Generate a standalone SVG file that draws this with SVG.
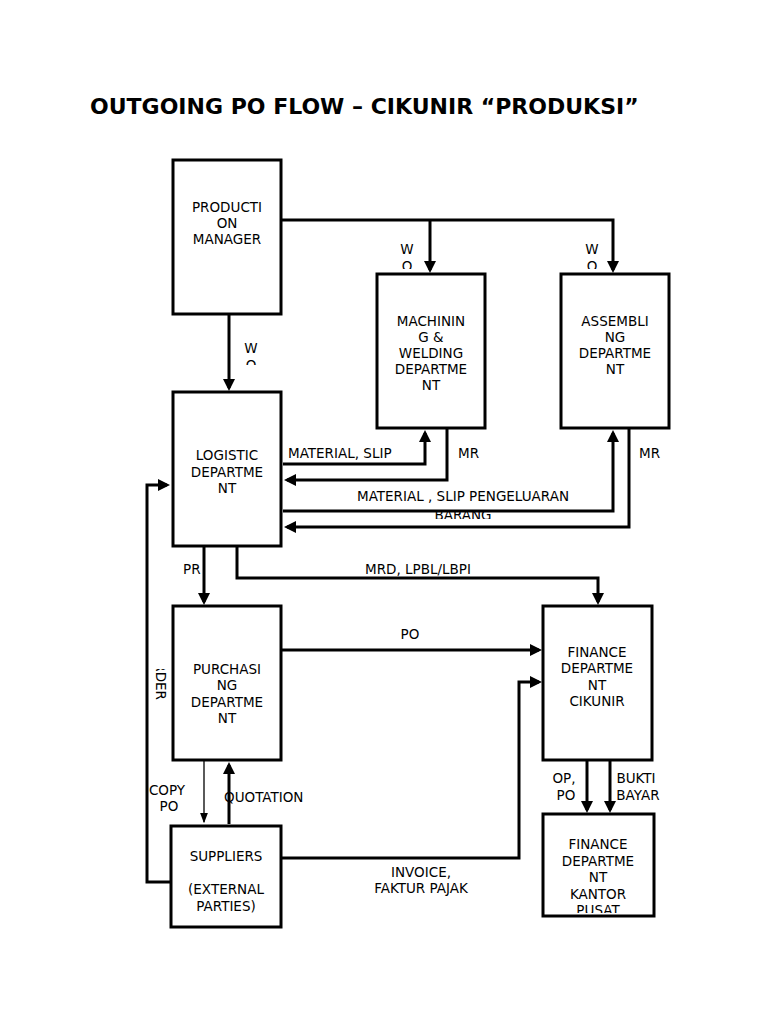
<svg xmlns="http://www.w3.org/2000/svg" width="768" height="1024" viewBox="0 0 768 1024">
<style>
.b{fill:#fff;stroke:#000;stroke-width:3}
.t{font-family:"DejaVu Sans",sans-serif;font-size:13.5px;fill:#000;text-anchor:middle}
.l{font-family:"DejaVu Sans",sans-serif;font-size:13.5px;fill:#000}
.c{fill:none;stroke:#000;stroke-width:3}
</style>
<defs>
<marker id="a" markerWidth="4" markerHeight="4" refX="3" refY="2" orient="auto" markerUnits="strokeWidth"><path d="M0,0L4,2L0,4z"/></marker>
<marker id="s" markerWidth="8" markerHeight="8" refX="7" refY="4" orient="auto" markerUnits="strokeWidth"><path d="M0,1L8,4L0,7z"/></marker>
<clipPath id="k1"><rect x="0" y="0" width="768" height="269"/></clipPath>
<clipPath id="k2"><rect x="0" y="0" width="768" height="365"/></clipPath>
<clipPath id="k3"><rect x="0" y="0" width="768" height="519"/></clipPath>
<clipPath id="k4"><rect x="0" y="0" width="768" height="913"/></clipPath>
<clipPath id="k5"><rect x="150" y="669" width="30" height="35"/></clipPath>
</defs>
<rect width="768" height="1024" fill="#fff"/>
<text x="90" y="114" font-family="DejaVu Sans,sans-serif" font-size="22" font-weight="bold">OUTGOING PO FLOW – CIKUNIR “PRODUKSI”</text>
<g id="connectors">
<path class="c" d="M281,220H613V270" marker-end="url(#a)"/>
<path class="c" d="M430,220V270" marker-end="url(#a)"/>
<path class="c" d="M229,314V388" marker-end="url(#a)"/>
<path class="c" d="M283,464H425V433" marker-end="url(#a)"/>
<path class="c" d="M447,428V480H287" marker-end="url(#a)"/>
<path class="c" d="M283,511H613V433" marker-end="url(#a)"/>
<path class="c" d="M629,428V527H287" marker-end="url(#a)"/>
<path class="c" d="M204,546V602" marker-end="url(#a)"/>
<path class="c" d="M237,546V578H598V602" marker-end="url(#a)"/>
<path class="c" d="M281,650H539" marker-end="url(#a)"/>
<path class="c" d="M281,858H519V682H539" marker-end="url(#a)"/>
<path class="c" d="M171,882H147V485H167" marker-end="url(#a)"/>
<path fill="none" stroke="#000" stroke-width="1.3" d="M204,760V822" marker-end="url(#s)"/>
<path class="c" d="M229,824V765" marker-end="url(#a)"/>
<path class="c" d="M587,760V810" marker-end="url(#a)"/>
<path class="c" d="M610,760V810" marker-end="url(#a)"/>
</g>
<g id="labels">
<g clip-path="url(#k1)"><text class="t" x="407" y="254">W</text><text class="t" x="407" y="271">O</text><text class="t" x="592" y="254">W</text><text class="t" x="592" y="271">O</text></g>
<g clip-path="url(#k2)"><text class="t" x="251" y="353">W</text><text class="t" x="251" y="370">O</text></g>
<text class="l" x="288" y="458">MATERIAL, SLIP</text>
<text class="l" x="458" y="458">MR</text>
<text class="l" x="639" y="458">MR</text>
<text class="t" x="463" y="501">MATERIAL , SLIP PENGELUARAN</text>
<g clip-path="url(#k3)"><text class="t" x="463" y="520">BARANG</text></g>
<text class="l" x="183" y="574">PR</text>
<text class="t" x="418" y="574">MRD, LPBL/LBPI</text>
<text class="t" x="410" y="639">PO</text>
<g clip-path="url(#k5)"><text class="l" text-anchor="end" transform="translate(156,700) rotate(90)">ORDER</text></g>
<text class="t" x="167" y="795">COPY</text><text class="t" x="169" y="811">PO</text>
<text class="l" x="224" y="802">QUOTATION</text>
<text class="t" x="421" y="877">INVOICE,</text>
<text class="t" x="421" y="893">FAKTUR PAJAK</text>
<text class="t" x="564" y="783">OP,</text><text class="t" x="566" y="800">PO</text>
<text class="t" x="636" y="783">BUKTI</text><text class="t" x="638" y="800">BAYAR</text>
</g>
<g id="pm"><rect class="b" x="173" y="160" width="108" height="154"/><text class="t" x="227" y="212">PRODUCTI</text><text class="t" x="227" y="228">ON</text><text class="t" x="227" y="244">MANAGER</text></g>
<g id="machining"><rect class="b" x="377" y="274" width="108" height="154"/><text class="t" x="431" y="326">MACHININ</text><text class="t" x="431" y="342">G &amp;</text><text class="t" x="431" y="358">WELDING</text><text class="t" x="431" y="374">DEPARTME</text><text class="t" x="431" y="390">NT</text></g>
<g id="assembling"><rect class="b" x="561" y="274" width="108" height="154"/><text class="t" x="615" y="326">ASSEMBLI</text><text class="t" x="615" y="342">NG</text><text class="t" x="615" y="358">DEPARTME</text><text class="t" x="615" y="374">NT</text></g>
<g id="logistic"><rect class="b" x="173" y="392" width="108" height="154"/><text class="t" x="227" y="460">LOGISTIC</text><text class="t" x="227" y="477">DEPARTME</text><text class="t" x="227" y="493">NT</text></g>
<g id="purchasing"><rect class="b" x="173" y="606" width="108" height="154"/><text class="t" x="227" y="674">PURCHASI</text><text class="t" x="227" y="690">NG</text><text class="t" x="227" y="707">DEPARTME</text><text class="t" x="227" y="723">NT</text></g>
<g id="finance"><rect class="b" x="543" y="606" width="109" height="154"/><text class="t" x="597" y="657">FINANCE</text><text class="t" x="597" y="673">DEPARTME</text><text class="t" x="597" y="690">NT</text><text class="t" x="597" y="706">CIKUNIR</text></g>
<g id="suppliers"><rect class="b" x="171" y="826" width="110" height="101"/><text class="t" x="226" y="861">SUPPLIERS</text><text class="t" x="226" y="894">(EXTERNAL</text><text class="t" x="226" y="911">PARTIES)</text></g>
<g id="financehq"><rect class="b" x="543" y="814" width="111" height="102"/><g clip-path="url(#k4)"><text class="t" x="598" y="849">FINANCE</text><text class="t" x="598" y="866">DEPARTME</text><text class="t" x="598" y="882">NT</text><text class="t" x="598" y="899">KANTOR</text><text class="t" x="598" y="915">PUSAT</text></g></g>
</svg>
